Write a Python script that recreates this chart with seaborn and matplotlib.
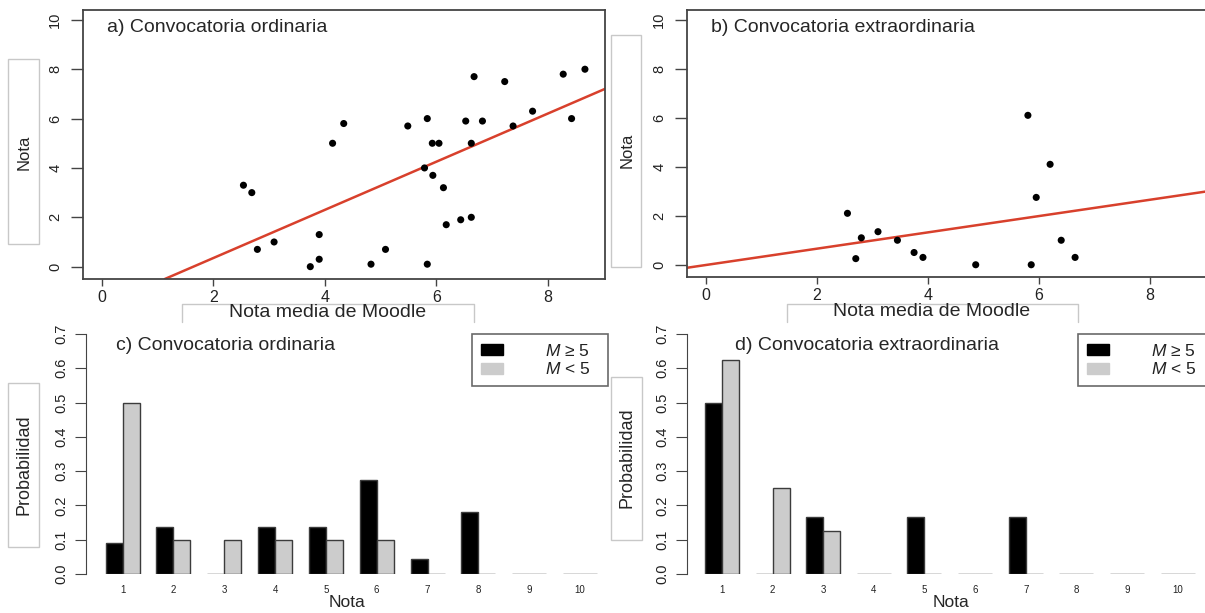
import numpy as np
import pandas as pd
import matplotlib
matplotlib.use('Agg')
import matplotlib.pyplot as plt
import seaborn as sns
from matplotlib import font_manager
from matplotlib.patches import Patch, Rectangle
from matplotlib.lines import Line2D

# a) convocatoria ordinaria: nota media de Moodle frente a nota del examen
moodle_ord = [2.54, 2.69, 2.79, 3.09, 3.74, 3.90, 3.90, 4.14, 4.34, 4.83, 5.09,
              5.49, 5.79, 5.84, 5.84, 5.94, 5.93, 6.05, 6.13, 6.18, 6.44, 6.53,
              6.63, 6.63, 6.68, 6.83, 7.23, 7.38, 7.73, 8.28, 8.43, 8.67]
nota_ord = [3.3, 3.0, 0.7, 1.0, 0.0, 1.3, 0.3, 5.0, 5.8, 0.1, 0.7,
            5.7, 4.0, 6.0, 0.1, 3.7, 5.0, 5.0, 3.2, 1.7, 1.9, 5.9,
            2.0, 5.0, 7.7, 5.9, 7.5, 5.7, 6.3, 7.8, 6.0, 8.0]
recta_ord = [-1.60, 0.975]  # ordenada, pendiente

# b) convocatoria extraordinaria
moodle_ext = [2.55, 2.70, 2.80, 3.10, 3.45, 3.75, 3.91, 4.86, 5.80, 5.86, 5.95, 6.20, 6.40, 6.65]
nota_ext = [2.1, 0.25, 1.1, 1.35, 1.0, 0.5, 0.3, 0.0, 6.1, 0.0, 2.75, 4.1, 1.0, 0.3]
recta_ext = [-0.01, 0.333]

# c) y d) distribucion de notas segun la nota media de Moodle
notas = [1, 2, 3, 4, 5, 6, 7, 8, 9, 10]
grupos = [r'$M$ ≥ 5', r'$M$ < 5']
prob_ord_alta = [0.091, 0.136, 0.0, 0.136, 0.136, 0.273, 0.045, 0.182, 0.0, 0.0]
prob_ord_baja = [0.5, 0.1, 0.1, 0.1, 0.1, 0.1, 0.0, 0.0, 0.0, 0.0]
prob_ext_alta = [0.5, 0.0, 0.167, 0.0, 0.167, 0.0, 0.167, 0.0, 0.0, 0.0]
prob_ext_baja = [0.625, 0.25, 0.125, 0.0, 0.0, 0.0, 0.0, 0.0, 0.0, 0.0]

sns.set_style('ticks')
plt.rcParams['font.family'] = ['Liberation Sans', 'DejaVu Sans']
plt.rcParams['mathtext.fontset'] = 'custom'
plt.rcParams['mathtext.it'] = 'Liberation Sans:italic'
plt.rcParams['mathtext.rm'] = 'Liberation Sans'

installed = {f.name for f in font_manager.fontManager.ttflist}
narrow = ['Liberation Sans Narrow', 'Liberation Sans', 'DejaVu Sans'] if 'Liberation Sans Narrow' in installed else ['Liberation Sans', 'DejaVu Sans']

W, H = 1205, 613
fig = plt.figure(figsize=(W / 100, H / 100), dpi=100)


def px(x, y):
    return x / W, 1 - y / H


def add_axes_px(x0, x1, y0, y1):
    return fig.add_axes([x0 / W, 1 - y1 / H, (x1 - x0) / W, (y1 - y0) / H])


def label_box(x0, x1, y0, y1, open_bottom=False):
    if open_bottom:
        xs = [x0, x0, x1, x1]
        ys = [y1, y0, y0, y1]
        fig.add_artist(Line2D([x / W for x in xs], [1 - y / H for y in ys],
                              transform=fig.transFigure, color='#c8c8c8', lw=1))
    else:
        fig.add_artist(Rectangle(px(x0, y1), (x1 - x0) / W, (y1 - y0) / H,
                                 transform=fig.transFigure, fill=False,
                                 edgecolor='#c8c8c8', lw=1))


gris_eje = '#444444'


def panel_dispersion(ax, x, y, recta, xlim):
    sns.scatterplot(x=x, y=y, ax=ax, color='black', s=26, edgecolor='none', zorder=3)
    ax.axline((0, recta[0]), slope=recta[1], color='#d8402c', lw=1.8, zorder=2)
    ax.set_xlim(xlim)
    ax.set_ylim(-0.5, 10.4)
    ax.set_xticks([0, 2, 4, 6, 8])
    ax.set_yticks([0, 2, 4, 6, 8, 10])
    ax.set_xlabel('')
    ax.set_ylabel('')
    for s in ax.spines.values():
        s.set_color(gris_eje)
        s.set_linewidth(1.3)
        s.set_visible(True)
    ax.tick_params(axis='x', length=5, width=1, color=gris_eje, labelsize=11.5,
                   labelcolor='#222222', pad=3)
    ax.tick_params(axis='y', length=9, width=1, color=gris_eje, labelsize=10.5,
                   labelcolor='#222222', pad=6, labelrotation=90)
    for t in ax.get_yticklabels():
        t.set_verticalalignment('center')


def panel_barras(ax, alta, baja, xlim, bbox):
    df = pd.DataFrame({'nota': notas * 2,
                       'grupo': [grupos[0]] * len(notas) + [grupos[1]] * len(notas),
                       'prob': alta + baja})
    sns.barplot(data=df, x='nota', y='prob', hue='grupo', hue_order=grupos,
                palette=['black', '#cccccc'], width=0.67, gap=0, errorbar=None,
                edgecolor='#3c3c3c', linewidth=1.0, legend=False, ax=ax)
    ax.set_xlim(xlim)
    ax.set_ylim(0, 0.7)
    ax.set_yticks(np.arange(0, 0.75, 0.1))
    ax.set_yticklabels(['%.1f' % v for v in np.arange(0, 0.75, 0.1)],
                       family=narrow, fontsize=10.5, rotation=90, va='center')
    ax.set_ylabel('')
    ax.set_xlabel('Nota', fontsize=12.5, labelpad=0)
    sns.despine(ax=ax, bottom=True)
    ax.spines['left'].set_color(gris_eje)
    ax.tick_params(axis='y', length=8, color=gris_eje, labelcolor='#222222', pad=5)
    ax.tick_params(axis='x', length=0, labelsize=7, labelcolor='#222222', pad=8)
    manijas = [Patch(facecolor='black', edgecolor='black'),
               Patch(facecolor='#cccccc', edgecolor='#cccccc')]
    leg = ax.legend(manijas, grupos, loc='upper left', bbox_to_anchor=bbox,
                    mode='expand', borderaxespad=0, frameon=True, fancybox=False,
                    handlelength=1.3, handleheight=0.6, handletextpad=2.4,
                    labelspacing=0.15, borderpad=0.5, fontsize=12.5)
    leg.get_frame().set_edgecolor(gris_eje)
    leg.get_frame().set_linewidth(1.2)
    for t in leg.get_texts():
        t.set_color('#222222')


# paneles superiores
ax_a = add_axes_px(83, 605, 10, 279)
panel_dispersion(ax_a, moodle_ord, nota_ord, recta_ord, (-0.34, 9.03))
ax_b = add_axes_px(687, 1225, 10, 277)
panel_dispersion(ax_b, moodle_ext, nota_ext, recta_ext, (-0.34, 9.35))

# paneles inferiores
ax_c = add_axes_px(86, 608, 334, 574)
panel_barras(ax_c, prob_ord_alta, prob_ord_baja, (-0.72, 9.55),
             (1 - 136 / 522, 1 - 44 / 240, 136 / 522, 44 / 240))
ax_d = add_axes_px(687, 1214, 334, 574)
panel_barras(ax_d, prob_ext_alta, prob_ext_baja, (-0.69, 9.72),
             (1 - 136 / 527, 1 - 44 / 240, 136 / 527, 44 / 240))

# titulos de cada panel
fig.text(*px(107, 28), 'a) Convocatoria ordinaria', ha='left', va='center', fontsize=14)
fig.text(*px(711, 28), 'b) Convocatoria extraordinaria', ha='left', va='center', fontsize=14)
fig.text(*px(116, 346), 'c) Convocatoria ordinaria', ha='left', va='center', fontsize=14)
fig.text(*px(735, 346), 'd) Convocatoria extraordinaria', ha='left', va='center', fontsize=14)

# etiquetas de ejes en recuadros
label_box(8, 39, 59, 244)
fig.text(*px(24, 152), 'Nota', rotation=90, ha='center', va='center', fontsize=12, family=narrow)
label_box(611, 641, 35, 267)
fig.text(*px(627, 150), 'Nota', rotation=90, ha='center', va='center', fontsize=12, family=narrow)
label_box(8, 39, 383, 547)
fig.text(*px(24, 465), 'Probabilidad', rotation=90, ha='center', va='center', fontsize=13, family=narrow)
label_box(611, 642, 377, 540)
fig.text(*px(627, 458), 'Probabilidad', rotation=90, ha='center', va='center', fontsize=13, family=narrow)

label_box(182, 474, 304, 322, open_bottom=True)
fig.text(*px(328, 313), 'Nota media de Moodle', ha='center', va='center', fontsize=14)
label_box(787, 1078, 304, 322, open_bottom=True)
fig.text(*px(932, 312), 'Nota media de Moodle', ha='center', va='center', fontsize=14)

fig.savefig('out.png', dpi=100)
